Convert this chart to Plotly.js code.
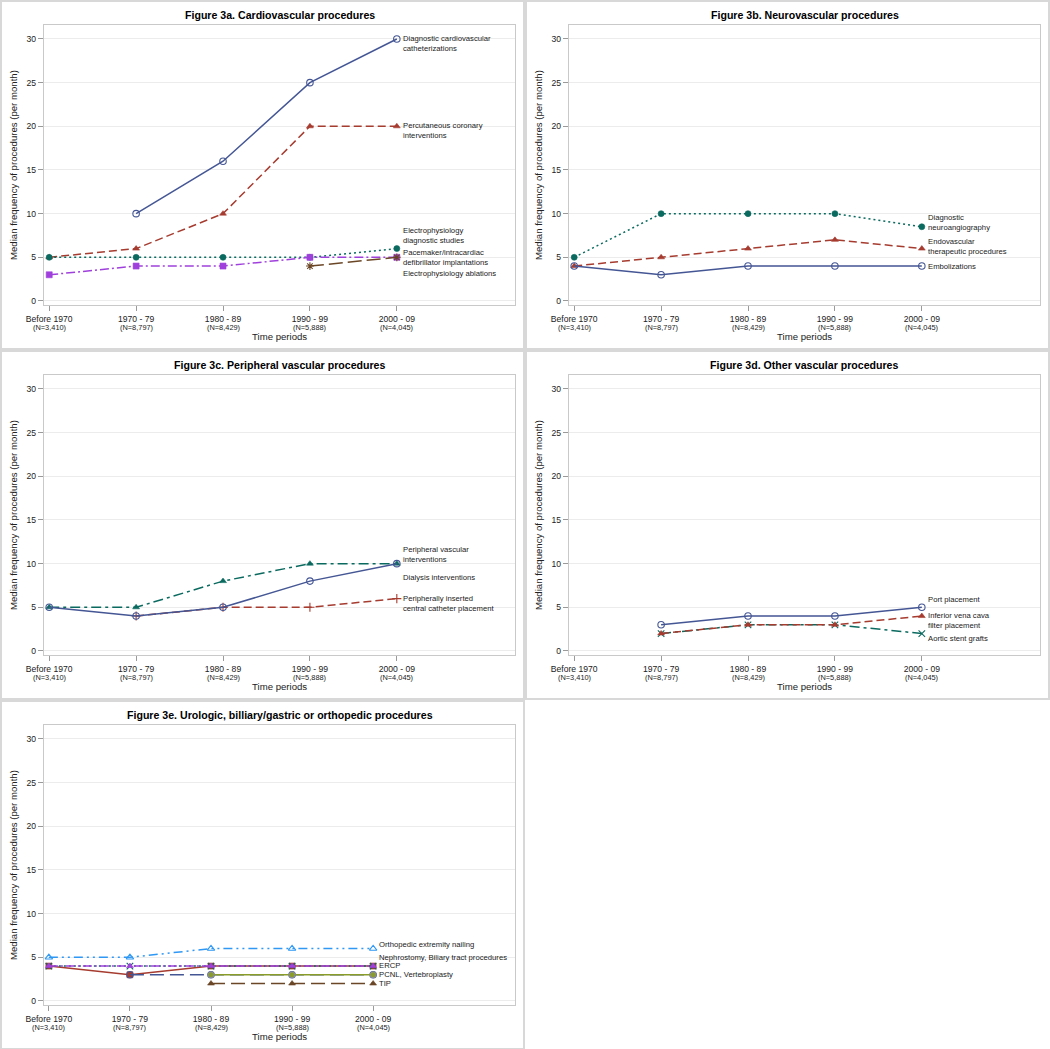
<!DOCTYPE html>
<html><head><meta charset="utf-8">
<script src="https://cdn.plot.ly/plotly-3.0.1.min.js"></script>
<style>html,body{margin:0;padding:0;background:#fff}#chart{width:1050px;height:1049px}</style>
</head><body><div id="chart"></div>
<script>
// ---------- DATA ----------
const periods = ["Before 1970", "1970 - 79", "1980 - 89", "1990 - 99", "2000 - 09"];
const periodN = ["(N=3,410)", "(N=8,797)", "(N=8,429)", "(N=5,888)", "(N=4,045)"];
const yTicks = [0, 5, 10, 15, 20, 25, 30];

const panelTitles = [
  "Figure 3a. Cardiovascular procedures",
  "Figure 3b. Neurovascular procedures",
  "Figure 3c. Peripheral vascular procedures",
  "Figure 3d. Other vascular procedures",
  "Figure 3e. Urologic, billiary/gastric or orthopedic procedures"
];
const xTitle = "Time periods";
const yTitle = "Median frequency of procedures (per month)";

// Figure 3a
const a_cath = [null, 10, 16, 25, 30];
const a_pci = [5, 6, 10, 20, 20];
const a_epStudies = [5, 5, 5, 5, 6];
const a_pacemaker = [3, 4, 4, 5, 5];
const a_epAblation = [null, null, null, 4, 5];
const a_labels = ["Diagnostic cardiovascular<br>catheterizations", "Percutaneous coronary<br>interventions",
  "Electrophysiology<br>diagnostic studies", "Pacemaker/intracardiac<br>defibrillator implantations",
  "Electrophysiology ablations"];
const a_labelY = [29.5, 19.5, 7.5, 5.0, 3.2];

// Figure 3b
const b_neuroangio = [5, 10, 10, 10, 8.5];
const b_endovascular = [4, 5, 6, 7, 6];
const b_emboliz = [4, 3, 4, 4, 4];
const b_labels = ["Diagnostic<br>neuroangiography", "Endovascular<br>therapeutic procedures", "Embolizations"];
const b_labelY = [8.95, 6.26, 4.0];

// Figure 3c
const c_pvi = [5, 5, 8, 10, 10];
const c_dialysis = [5, 4, 5, 8, 10];
const c_picc = [null, 4, 5, 5, 6];
const c_labels = ["Peripheral vascular<br>interventions", "Dialysis interventions",
  "Peripherally inserted<br>central catheter placement"];
const c_labelY = [11.0, 8.47, 5.46];

// Figure 3d
const d_port = [null, 3, 4, 4, 5];
const d_ivc = [null, 2, 3, 3, 4];
const d_aortic = [null, 2, 3, 3, 2];
const d_labels = ["Port placement", "Inferior vena cava<br>filter placement", "Aortic stent grafts"];
const d_labelY = [5.9, 3.47, 1.41];

// Figure 3e
const e_ortho = [5, 5, 6, 6, 6];
const e_nephro = [4, 3, 4, 4, 4];
const e_vertebro = [null, 3, 3, 3, 3];
const e_biliary = [4, 4, 4, 4, 4];
const e_ercp = [4, 4, 4, 4, 4];
const e_pcnl = [null, null, 3, 3, 3];
const e_tip = [null, null, 2, 2, 2];
const e_labels = ["Orthopedic extremity nailing", "Nephrostomy, Biliary tract procedures", "ERCP",
  "PCNL, Vertebroplasty", "TIP"];
const e_labelY = [6.5, 4.98, 4.03, 3.0, 1.98];

// ---------- STYLE ----------
const C = {
  blue: "#445694", red: "#A63B2F", teal: "#0A6A5F", purple: "#A040DC",
  brown: "#6B4626", olive: "#8A9C2A", lblue: "#2E98F4", gray: "#8E8E9E"
};
const FONT = "Liberation Sans, Arial, Helvetica, sans-serif";
const W = 1050, H = 1049;
const panels = [
  {ox: 0, oy: 0, xr: [-0.06, 5.36]},
  {ox: 525, oy: 0, xr: [-0.06, 5.36]},
  {ox: 0, oy: 350, xr: [-0.06, 5.36]},
  {ox: 525, oy: 350, xr: [-0.06, 5.36]},
  {ox: 0, oy: 700, xr: [-0.06, 5.75]}
];
const PL = 44, PR = 515, PT = 25, PB = 305;
const px = v => v / W;
const py = v => 1 - v / H;

function tr(k, y, color, dash, symbol, open) {
  const s = k === 0 ? "" : String(k + 1);
  return {
    type: "scatter", mode: "lines+markers", x: periods, y: y,
    xaxis: "x" + s, yaxis: "y" + s, connectgaps: false, hoverinfo: "skip",
    line: {color: color, width: 1.5, dash: dash},
    marker: {symbol: symbol, size: open ? 6.5 : 6, color: color,
      line: {color: color, width: open ? 1.1 : 0.6}}
  };
}

const traces = [
  // a
  tr(0, a_cath, C.blue, "solid", "circle-open", true),
  tr(0, a_pci, C.red, "8px,4px", "triangle-up"),
  tr(0, a_epStudies, C.teal, "2px,3px", "circle"),
  tr(0, a_pacemaker, C.purple, "9px,3px,2px,3px", "square"),
  tr(0, a_epAblation, C.brown, "14px,5px", "asterisk-open", true),
  // b
  tr(1, b_neuroangio, C.teal, "2px,3px", "circle"),
  tr(1, b_endovascular, C.red, "8px,4px", "triangle-up"),
  tr(1, b_emboliz, C.blue, "solid", "circle-open", true),
  // c
  tr(2, c_pvi, C.teal, "10px,4px,3px,4px", "triangle-up"),
  tr(2, c_picc, C.red, "8px,4px", "cross-thin-open", true),
  tr(2, c_dialysis, C.blue, "solid", "circle-open", true),
  // d
  tr(3, d_aortic, C.teal, "10px,4px,3px,4px", "x-thin-open", true),
  tr(3, d_ivc, C.red, "8px,4px", "triangle-up"),
  tr(3, d_port, C.blue, "solid", "circle-open", true),
  // e
  tr(4, e_ortho, C.lblue, "9px,4px,2px,4px,2px,4px", "triangle-up-open", true),
  tr(4, e_nephro, C.red, "solid", "square"),
  tr(4, e_vertebro, C.blue, "14px,6px", "circle-open", true),
  tr(4, e_biliary, C.teal, "2px,3px", "x-thin-open", true),
  tr(4, e_ercp, C.purple, "9px,3px,2px,3px", "triangle-up"),
  tr(4, e_pcnl, C.olive, "solid", "circle"),
  tr(4, e_tip, C.brown, "14px,6px", "triangle-up")
];
// olive circles have a gray outline
traces[19].marker.line = {color: C.gray, width: 1};

const layout = {
  width: W, height: H, margin: {l: 0, r: 0, t: 0, b: 0},
  paper_bgcolor: "#fff", plot_bgcolor: "#fff", showlegend: false,
  font: {family: FONT, color: "#222"},
  annotations: [], shapes: []
};

const allLabels = [[a_labels, a_labelY], [b_labels, b_labelY], [c_labels, c_labelY], [d_labels, d_labelY], [e_labels, e_labelY]];

panels.forEach((p, k) => {
  const s = k === 0 ? "" : String(k + 1);
  layout["xaxis" + s] = {
    type: "category", domain: [px(p.ox + PL), px(p.ox + PR)], range: p.xr,
    anchor: "y" + s, tickvals: periods, ticktext: periods,
    ticks: "outside", ticklen: 5, tickcolor: "#9a9a9a", tickwidth: 1,
    showline: true, mirror: true, linecolor: "#c9c9c9", linewidth: 1.2,
    showgrid: false, zeroline: false, fixedrange: true,
    tickfont: {family: FONT, size: 8.6, color: "#222"}
  };
  layout["yaxis" + s] = {
    domain: [py(p.oy + PB), py(p.oy + PT)], range: [-0.46, 31.6],
    anchor: "x" + s, tickvals: yTicks,
    ticks: "outside", ticklen: 5, tickcolor: "#9a9a9a", tickwidth: 1,
    showline: true, mirror: true, linecolor: "#c9c9c9", linewidth: 1.2,
    showgrid: true, gridcolor: "#ececec", gridwidth: 1, zeroline: false, fixedrange: true,
    tickfont: {family: FONT, size: 8.6, color: "#222"}
  };
  // panel frame
  layout.shapes.push({type: "rect", xref: "paper", yref: "paper",
    x0: px(p.ox + 1), x1: px(p.ox + 524), y0: py(p.oy + 1), y1: py(p.oy + 349),
    line: {color: "#d8d8d8", width: 2}});
  const cx = px(p.ox + (PL + PR) / 2);
  // panel title
  layout.annotations.push({xref: "paper", yref: "paper", x: cx, y: py(p.oy + 15),
    text: "<b>" + panelTitles[k] + "</b>", showarrow: false, xanchor: "center", yanchor: "middle",
    font: {family: FONT, size: 10.6, color: "#000"}});
  // N row under the period tick labels
  periods.forEach((per, i) => {
    layout.annotations.push({xref: "x" + s, yref: "paper", x: i, y: py(p.oy + 327.3),
      text: periodN[i], showarrow: false, xanchor: "center", yanchor: "middle",
      font: {family: FONT, size: 7.4, color: "#222"}});
  });
  // x title
  layout.annotations.push({xref: "paper", yref: "paper", x: cx, y: py(p.oy + 336.5),
    text: xTitle, showarrow: false, xanchor: "center", yanchor: "middle",
    font: {family: FONT, size: 9.6, color: "#222"}});
  // y title
  layout.annotations.push({xref: "paper", yref: "paper", x: px(p.ox + 13), y: py(p.oy + 165),
    text: yTitle, textangle: -90, showarrow: false, xanchor: "center", yanchor: "middle",
    font: {family: FONT, size: 9.6, color: "#222"}});
  // series labels
  const [labs, ys] = allLabels[k];
  labs.forEach((t, i) => {
    layout.annotations.push({xref: "x" + s, yref: "y" + s, x: 4, y: ys[i], text: t,
      showarrow: false, xanchor: "left", yanchor: "middle", align: "left", xshift: 4,
      font: {family: FONT, size: 7.7, color: "#222"}});
  });
});

Plotly.newPlot("chart", traces, layout, {displayModeBar: false, staticPlot: true});
</script>
</body></html>
